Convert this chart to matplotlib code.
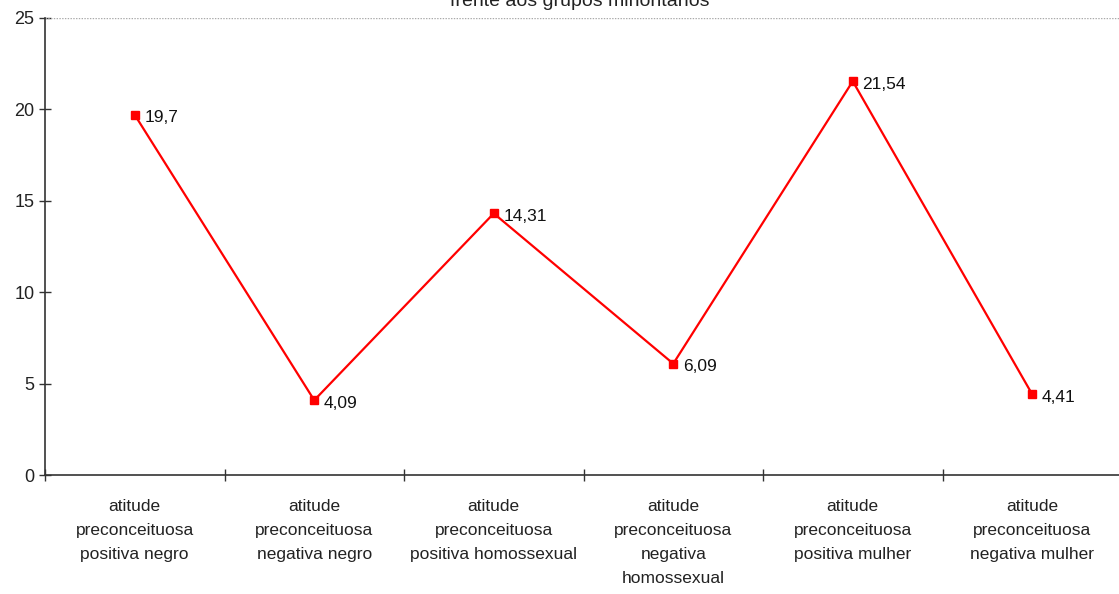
import matplotlib
matplotlib.use("Agg")
import matplotlib.pyplot as plt

categories = [
    "atitude\npreconceituosa\npositiva negro",
    "atitude\npreconceituosa\nnegativa negro",
    "atitude\npreconceituosa\npositiva homossexual",
    "atitude\npreconceituosa\nnegativa\nhomossexual",
    "atitude\npreconceituosa\npositiva mulher",
    "atitude\npreconceituosa\nnegativa mulher",
]
values = [19.7, 4.09, 14.31, 6.09, 21.54, 4.41]
value_labels = ["19,7", "4,09", "14,31", "6,09", "21,54", "4,41"]
y_ticks = [0, 5, 10, 15, 20, 25]
title = "frente aos grupos minoritários"

plt.rcParams["font.family"] = ["Liberation Sans", "DejaVu Sans"]

fig = plt.figure(figsize=(11.19, 5.94), dpi=100)
ax = fig.add_axes([45 / 1119, 119 / 594, 1077 / 1119, 457 / 594])

x = [i + 0.5 for i in range(len(values))]
ax.plot(x, values, color="#ff0000", lw=1.6, marker="s", ms=6,
        markerfacecolor="#ff0000", markeredgecolor="#ff0000", zorder=3)

for xi, v, lab in zip(x, values, value_labels):
    ax.annotate(lab, (xi, v), xytext=(7, -2), textcoords="offset points",
                ha="left", va="center", fontsize=12.5, color="#111111")

ax.set_xlim(0, len(values))
ax.set_ylim(0, 25)
ax.set_yticks(y_ticks)
ax.set_yticklabels([str(t) for t in y_ticks], fontsize=13, color="#222222")
ax.set_xticks(range(len(values) + 1))
ax.set_xticklabels([])
ax.tick_params(axis="both", direction="inout", length=9, width=1, color="#333333")
ax.tick_params(axis="y", pad=3)

for xi, cat in zip(x, categories):
    ax.annotate(cat, (xi, 0), xytext=(0, -17), textcoords="offset points",
                ha="center", va="top", fontsize=12.5, color="#222222",
                linespacing=1.75, annotation_clip=False)

ax.axhline(25, color="#aaaaaa", lw=1, ls=(0, (1, 1)))

for side in ("top", "right"):
    ax.spines[side].set_visible(False)
for side in ("left", "bottom"):
    ax.spines[side].set_color("#333333")
    ax.spines[side].set_linewidth(1.2)

fig.text(0.518, 0.998, title, ha="center", va="center", fontsize=14, color="#222222")

fig.savefig("out.png", dpi=100)
